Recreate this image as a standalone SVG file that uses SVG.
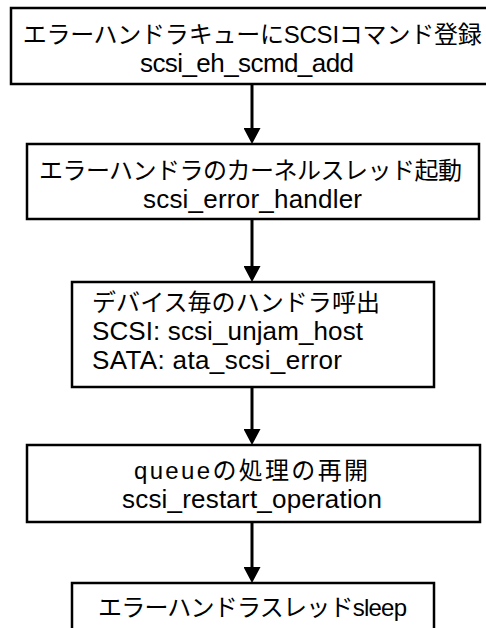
<svg xmlns="http://www.w3.org/2000/svg" width="486" height="628" viewBox="0 0 486 628">
  <style>
    .box { fill: #ffffff; stroke: #000000; stroke-width: 2.5; }
    .t { font-family: "Liberation Sans", "Noto Sans CJK JP", sans-serif; font-size: 24px; fill: #000000; }
    .l { font-size: 26px; }
    .conn { stroke: #000000; stroke-width: 3; fill: none; }
  </style>
  <defs>
    <marker id="arrow" markerUnits="userSpaceOnUse" markerWidth="16" markerHeight="17" viewBox="0 0 16 17" refX="0" refY="8.5" orient="auto">
      <path d="M0,0 L16,8.5 L0,17 Z" fill="#000000"/>
    </marker>
  </defs>
  <rect x="0" y="0" width="486" height="628" fill="#ffffff"/>

  <g id="connectors">
    <line class="conn" x1="252" y1="84" x2="252" y2="128" marker-end="url(#arrow)"/>
    <line class="conn" x1="252" y1="219" x2="252" y2="266" marker-end="url(#arrow)"/>
    <line class="conn" x1="252" y1="387" x2="252" y2="429" marker-end="url(#arrow)"/>
    <line class="conn" x1="252" y1="522" x2="252" y2="567" marker-end="url(#arrow)"/>
  </g>

  <g id="node1">
    <rect class="box" x="11" y="8" width="490" height="76"/>
    <text class="t" x="22.7" y="43" textLength="459" lengthAdjust="spacing">エラーハンドラキューにSCSIコマンド登録</text>
    <text class="t l" x="140" y="72" textLength="214" lengthAdjust="spacing">scsi_eh_scmd_add</text>
  </g>

  <g id="node2">
    <rect class="box" x="27" y="144" width="452" height="75"/>
    <text class="t" x="39" y="179" textLength="423" lengthAdjust="spacing">エラーハンドラのカーネルスレッド起動</text>
    <text class="t l" x="143" y="208" textLength="219" lengthAdjust="spacing">scsi_error_handler</text>
  </g>

  <g id="node3">
    <rect class="box" x="72" y="282" width="362" height="105"/>
    <text class="t" x="92" y="311" textLength="288" lengthAdjust="spacing">デバイス毎のハンドラ呼出</text>
    <text class="t l" x="92" y="340" textLength="271" lengthAdjust="spacing">SCSI: scsi_unjam_host</text>
    <text class="t l" x="92" y="369" textLength="250" lengthAdjust="spacing">SATA: ata_scsi_error</text>
  </g>

  <g id="node4">
    <rect class="box" x="27" y="445" width="453" height="77"/>
    <text class="t" x="134" y="479" textLength="234" lengthAdjust="spacing">queueの処理の再開</text>
    <text class="t l" x="122" y="508" textLength="260" lengthAdjust="spacing">scsi_restart_operation</text>
  </g>

  <g id="node5">
    <rect class="box" x="72" y="583" width="362" height="60"/>
    <text class="t" x="98" y="616" textLength="309" lengthAdjust="spacing">エラーハンドラスレッドsleep</text>
  </g>
</svg>
